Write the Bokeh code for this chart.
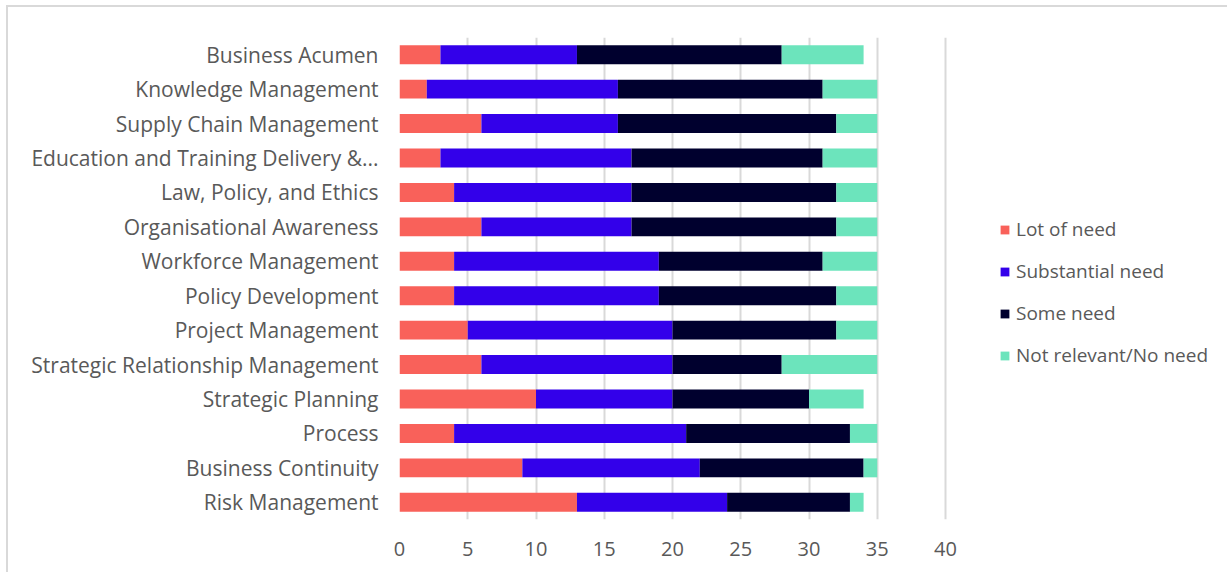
from bokeh.plotting import figure
from bokeh.models import FactorRange, Legend, LegendItem, FixedTicker, Range1d
from bokeh.embed import file_html
from bokeh.resources import INLINE

categories = [
    "Business Acumen",
    "Knowledge Management",
    "Supply Chain Management",
    "Education and Training Delivery &...",
    "Law, Policy, and Ethics",
    "Organisational Awareness",
    "Workforce Management",
    "Policy Development",
    "Project Management",
    "Strategic Relationship Management",
    "Strategic Planning",
    "Process",
    "Business Continuity",
    "Risk Management",
]
lot_of_need = [3, 2, 6, 3, 4, 6, 4, 4, 5, 6, 10, 4, 9, 13]
substantial_need = [10, 14, 10, 14, 13, 11, 15, 15, 15, 14, 10, 17, 13, 11]
some_need = [15, 15, 16, 14, 15, 15, 12, 13, 12, 8, 10, 12, 12, 9]
not_relevant = [6, 4, 3, 4, 3, 3, 4, 3, 3, 7, 4, 2, 1, 1]

series_names = ["Lot of need", "Substantial need", "Some need", "Not relevant/No need"]
series_colors = ["#F9615A", "#3300EA", "#00002E", "#6CE4BC"]
x_ticks = [0, 5, 10, 15, 20, 25, 30, 35, 40]

FONT = "Open Sans"
TEXT = "#595959"

# frame spans 830 px; the axis 0..40 takes the first 546 px, legend sits to its right
x_end = 40 * 830 / 546

p = figure(
    width=1221, height=567,
    y_range=FactorRange(factors=list(reversed(categories))),
    x_range=Range1d(0, x_end),
    output_backend="svg", toolbar_location=None,
    min_border_left=391, min_border_right=0, min_border_top=30, min_border_bottom=55,
)
p.styles = {"margin-left": "6px", "margin-top": "5px",
            "border-left": "2px solid #D9D9D9", "border-top": "2px solid #D9D9D9"}

data = dict(cat=categories, a=lot_of_need, b=substantial_need, c=some_need, d=not_relevant)
renderers = p.hbar_stack(["a", "b", "c", "d"], y="cat", height=0.55, source=data,
                         color=series_colors, line_color=None)

p.xaxis.ticker = FixedTicker(ticks=x_ticks)
p.xgrid.ticker = FixedTicker(ticks=x_ticks)
p.xgrid.grid_line_color = "#D9D9D9"
p.xgrid.grid_line_width = 2
p.ygrid.grid_line_color = None
p.outline_line_color = None

for ax in (p.xaxis[0], p.yaxis[0]):
    ax.axis_line_color = None
    ax.major_tick_line_color = None
    ax.minor_tick_line_color = None
    ax.major_label_text_font = FONT
    ax.major_label_text_color = TEXT

p.xaxis.major_label_text_font_size = "20px"
p.xaxis.major_label_standoff = 16
p.yaxis.major_label_text_font_size = "21px"
p.yaxis.major_label_standoff = 15

items = [LegendItem(label=n, renderers=[r]) for n, r in zip(series_names, renderers)]
legend = Legend(items=items, location=(600, 151), border_line_color=None,
                background_fill_alpha=0, label_text_font=FONT, label_text_color=TEXT,
                label_text_font_size="19px", glyph_width=11, glyph_height=11,
                label_standoff=6, spacing=16, padding=0, margin=0)
p.add_layout(legend, "center")

open("out.html", "w").write(file_html(p, INLINE))
